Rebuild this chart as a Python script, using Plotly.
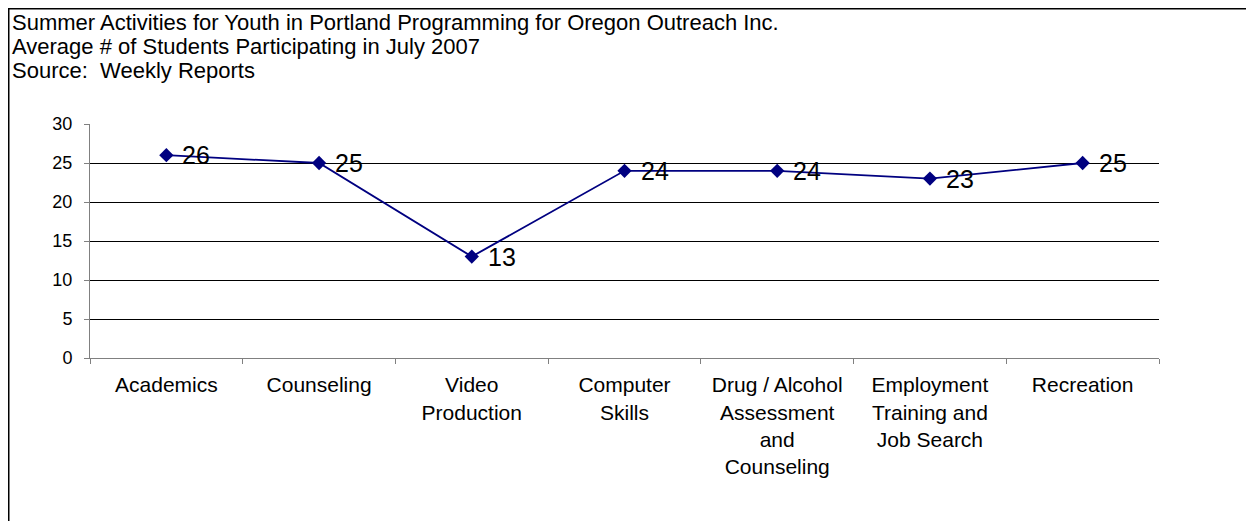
import plotly.graph_objects as go

categories = ["Academics", "Counseling", "Video<br>Production", "Computer<br>Skills",
              "Drug / Alcohol<br>Assessment<br>and<br>Counseling",
              "Employment<br>Training and<br>Job Search", "Recreation"]
values = [26, 25, 13, 24, 24, 23, 25]
y_ticks = [0, 5, 10, 15, 20, 25, 30]
title_lines = ["Summer Activities for Youth in Portland Programming for Oregon Outreach Inc.",
               "Average # of Students Participating in July 2007",
               "Source:  Weekly Reports"]

W, H = 1254, 521
OFF = 8  # page body margin
L, R, T, B = 90 - OFF, 1159 - OFF, 124 - OFF, 358 - OFF  # plot area in figure px
pw, ph = R - L, B - T

def px_x(x):
    return (x - L) / pw

def px_y(y):
    return (B - y) / ph

FONT = "Liberation Sans, Arial, sans-serif"
NAVY = "#000080"

fig = go.Figure()
fig.add_trace(go.Scatter(
    x=categories, y=values, mode="lines+markers",
    line=dict(color=NAVY, width=1.8),
    marker=dict(symbol="diamond", size=11, color=NAVY),
    hoverinfo="skip", showlegend=False,
))

shapes = [dict(type="rect", xref="paper", yref="paper",
               x0=px_x(0.75), x1=px_x(1400), y0=px_y(700), y1=px_y(0.75),
               line=dict(color="#000000", width=1.5))]

annotations = []
for c, v in zip(categories, values):
    annotations.append(dict(x=c, y=v, xref="x", yref="y", text=str(v), showarrow=False,
                            xanchor="left", yanchor="middle", xshift=14, yshift=0,
                            font=dict(family=FONT, size=25, color="#000000")))
for i, line in enumerate(title_lines):
    annotations.append(dict(x=px_x(2), y=px_y(0 + 24 * i), xref="paper", yref="paper",
                            text=line, showarrow=False,
                            xanchor="left", yanchor="top", align="left",
                            font=dict(family=FONT, size=22, color="#000000")))

fig.update_layout(
    width=W, height=H,
    margin=dict(l=L, r=W - R, t=T, b=H - B, pad=0),
    paper_bgcolor="white", plot_bgcolor="white",
    shapes=shapes, annotations=annotations,
    xaxis=dict(type="category", showgrid=False, showline=True, linecolor="#808080", linewidth=1,
               ticks="outside", ticklen=5, tickcolor="#808080", tickwidth=1,
               tickson="boundaries", tickangle=0, ticklabelstandoff=8,
               tickfont=dict(family=FONT, size=21, color="#000000"),
               range=[-0.5, len(categories) - 0.5], fixedrange=True),
    yaxis=dict(range=[0, 30], tickvals=y_ticks, showgrid=True, gridcolor="#000000", gridwidth=1,
               zeroline=False,
               showline=True, linecolor="#808080", linewidth=1,
               ticks="outside", ticklen=5, tickcolor="#808080", tickwidth=1,
               ticklabelstandoff=8,
               tickfont=dict(family=FONT, size=18, color="#000000"), fixedrange=True),
)

fig.write_html("out.html")
